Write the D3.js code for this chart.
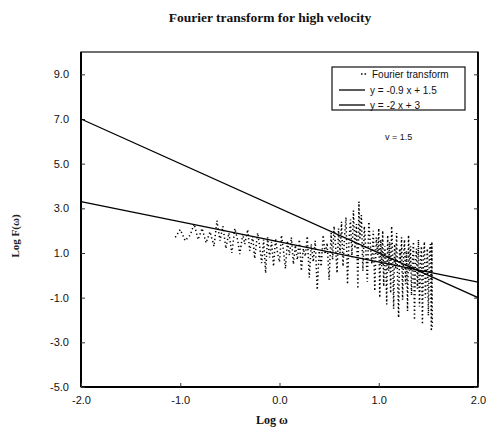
<!DOCTYPE html>
<html>
<head>
<meta charset="utf-8">
<script src="https://cdn.jsdelivr.net/npm/d3@7"></script>
<style>
  html, body { margin: 0; padding: 0; background: #fff; }
  svg { display: block; }
</style>
</head>
<body>
<svg id="chart" width="490" height="438"></svg>
<script>
// ---- data ----
const titleText = "Fourier transform for high velocity";
const xTicks = [-2, -1, 0, 1, 2];
const xTickLabels = ["-2.0", "-1.0", "0.0", "1.0", "2.0"];
const yTicks = [9, 7, 5, 3, 1, -1, -3, -5];
const yTickLabels = ["9.0", "7.0", "5.0", "3.0", "1.0", "-1.0", "-3.0", "-5.0"];

// Fourier transform samples (log omega, log F(omega))
const logOmega = [
  -1.05, -1.00, -0.95, -0.90, -0.86, -0.82, -0.78, -0.74, -0.70, -0.66, -0.63, -0.60, -0.57, -0.54, -0.51,
  -0.48, -0.45, -0.42, -0.40, -0.37, -0.35, -0.32, -0.30, -0.27, -0.25, -0.22, -0.20, -0.18, -0.16, -0.14,
  -0.12, -0.10, -0.08, -0.06, -0.04, -0.02, 0.00,
  0.02, 0.04, 0.06, 0.08, 0.10, 0.12, 0.14, 0.16, 0.18, 0.20, 0.22, 0.24, 0.26, 0.28, 0.30, 0.32, 0.34,
  0.36, 0.38, 0.40, 0.42, 0.44, 0.46, 0.48, 0.50,
  0.52, 0.535, 0.55, 0.565, 0.58, 0.595, 0.61, 0.625, 0.64, 0.655, 0.67, 0.685, 0.70, 0.715, 0.73, 0.745,
  0.76, 0.775, 0.79, 0.80, 0.81, 0.825, 0.84, 0.855, 0.87, 0.885, 0.90, 0.915, 0.93, 0.945, 0.96, 0.975,
  0.99, 1.00,
  1.01, 1.02, 1.03, 1.04, 1.05, 1.06, 1.07, 1.08, 1.09, 1.10, 1.11, 1.12, 1.13, 1.14, 1.15, 1.16, 1.17,
  1.18, 1.19, 1.20, 1.21, 1.22, 1.23, 1.24, 1.25, 1.26, 1.27, 1.28, 1.29, 1.30, 1.31, 1.32, 1.33, 1.34,
  1.35, 1.36, 1.37, 1.38, 1.39, 1.40, 1.41, 1.42, 1.43, 1.44, 1.45, 1.46, 1.47, 1.48, 1.49, 1.50, 1.51,
  1.52, 1.53, 1.535, 1.54
];
const logF = [
  1.70, 2.05, 1.55, 1.80, 2.30, 1.60, 2.10, 1.45, 1.95, 1.30, 2.45, 1.55, 2.20, 1.20, 1.90,
  1.00, 2.10, 1.55, 0.95, 1.85, 1.40, 2.05, 1.10, 1.75, 0.75, 1.90, 1.30, 0.55, 1.60, 0.10,
  1.70, 0.80, 1.50, 0.40, 1.65, 1.00, 0.60,
  1.80, 1.10, 0.30, 1.55, 0.90, 1.70, 0.50, 1.35, 0.70, 1.60, 0.20, 1.20, 0.85, 1.75, -0.10, 1.40, 0.60,
  1.55, -0.65, 1.10, 0.40, 1.80, 0.95, 1.45, -0.20,
  1.90, 0.70, 2.20, 1.30, 0.10, 2.10, 1.00, 2.40, 0.40, 1.70, 2.60, -0.40, 1.50, 2.50, 0.80, 2.90,
  1.20, 2.30, -0.60, 3.30, 1.60, 2.70, 0.20, 2.20, 1.10, -0.30, 2.40, 1.40, 0.50, 2.00, -0.70, 1.70,
  0.90, 2.10,
  -1.00, 1.60, 0.40, 2.00, -0.50, 1.30, 0.80, -1.30, 1.80, 0.20, 1.50, -0.80, 2.20, 0.90, -1.50, 1.40, 0.30,
  1.90, -0.20, -1.90, 1.20, 0.60, 1.70, -1.10, 0.90, 1.60, -0.40, 1.10, -1.60, 1.80, 0.20, 1.30, -0.90, 0.70,
  1.50, -2.00, 0.50, 1.20, -0.60, 1.60, -1.40, 0.40, 1.30, -2.20, 0.80, 1.50, -1.00, 0.30, 1.20, -1.80, 0.90,
  1.40, -2.50, 1.50, -2.30
];

// fitted lines: y = slope * x + intercept
const fitNames = ["y = -0.9 x + 1.5", "y = -2 x + 3"];
const fitSlopes = [-0.9, -2];
const fitIntercepts = [1.5, 3];
const legendNames = ["Fourier transform"].concat(fitNames);
const noteText = "v = 1.5";

(function () {
  // ---- layout ----
  const svg = d3.select("#chart");
  const pL = 81, pR = 478, pT = 52, pB = 387;
  const x = d3.scaleLinear().domain([-2, 2]).range([pL, pR]);
  const y = d3.scaleLinear().domain([-5, 10]).range([pB, pT]);

  const serif = "'Liberation Serif', 'DejaVu Serif', serif";
  const sans = "'Liberation Sans', Arial, sans-serif";

  // title
  svg.append("text")
    .attr("x", 270).attr("y", 22)
    .attr("text-anchor", "middle")
    .attr("font-family", serif).attr("font-weight", "bold")
    .attr("font-size", 13.5)
    .attr("fill", "#111")
    .text(titleText);

  // frame
  svg.append("rect")
    .attr("x", pL).attr("y", pT)
    .attr("width", pR - pL).attr("height", pB - pT)
    .attr("fill", "none").attr("stroke", "#111").attr("stroke-width", 1.2);
  svg.append("line").attr("x1", pL).attr("x2", pL).attr("y1", pT).attr("y2", pB)
    .attr("stroke", "#000").attr("stroke-width", 2);
  svg.append("line").attr("x1", pL).attr("x2", pR).attr("y1", pB).attr("y2", pB)
    .attr("stroke", "#000").attr("stroke-width", 2);
  svg.append("line").attr("x1", pR).attr("x2", pR).attr("y1", pT).attr("y2", pB)
    .attr("stroke", "#000").attr("stroke-width", 1.8);

  // axes via d3 (inward ticks)
  const yAxis = d3.axisLeft(y).tickValues(yTicks)
    .tickFormat((d, i) => yTickLabels[i]).tickSizeInner(-4).tickSizeOuter(0).tickPadding(12);
  const gy = svg.append("g").attr("transform", `translate(${pL},0)`).call(yAxis);
  gy.select(".domain").remove();
  gy.selectAll("text").attr("font-family", sans).attr("font-size", 11).attr("fill", "#111");
  gy.selectAll("line").attr("stroke", "#333");

  const xAxis = d3.axisBottom(x).tickValues(xTicks)
    .tickFormat((d, i) => xTickLabels[i]).tickSizeInner(-4).tickSizeOuter(0).tickPadding(9);
  const gx = svg.append("g").attr("transform", `translate(0,${pB})`).call(xAxis);
  gx.select(".domain").remove();
  gx.selectAll("text").attr("font-family", sans).attr("font-size", 11).attr("fill", "#111");
  gx.selectAll("line").attr("stroke", "#333");

  // right axis inward ticks
  const yAxisR = d3.axisRight(y).tickValues(yTicks).tickFormat("").tickSizeInner(-4).tickSizeOuter(0);
  const gyr = svg.append("g").attr("transform", `translate(${pR},0)`).call(yAxisR);
  gyr.select(".domain").remove();
  gyr.selectAll("line").attr("stroke", "#333");

  // axis titles
  svg.append("text")
    .attr("x", 272).attr("y", 424)
    .attr("text-anchor", "middle")
    .attr("font-family", serif).attr("font-weight", "bold").attr("font-size", 12)
    .attr("fill", "#111")
    .text("Log ω");
  svg.append("text")
    .attr("transform", "translate(19,236) rotate(-90)")
    .attr("text-anchor", "middle")
    .attr("font-family", serif).attr("font-weight", "bold").attr("font-size", 11)
    .attr("fill", "#222")
    .text("Log F(ω)");

  // Fourier transform dotted trace
  const pts = logOmega.map((w, i) => [w, logF[i]]);
  const line = d3.line().x(d => x(d[0])).y(d => y(d[1]));
  svg.append("path")
    .datum(pts)
    .attr("d", line)
    .attr("fill", "none")
    .attr("stroke", "#000")
    .attr("stroke-width", 1.5)
    .attr("stroke-dasharray", "1.3,2.6");

  // fitted lines
  fitSlopes.forEach((s, i) => {
    const seg = [[-2, s * -2 + fitIntercepts[i]], [2, s * 2 + fitIntercepts[i]]];
    svg.append("path")
      .datum(seg)
      .attr("d", line)
      .attr("fill", "none")
      .attr("stroke", "#000")
      .attr("stroke-width", 1.3);
  });

  // legend
  const lg = svg.append("g");
  lg.append("rect")
    .attr("x", 332).attr("y", 67).attr("width", 133).attr("height", 43)
    .attr("fill", "#fff").attr("stroke", "#111").attr("stroke-width", 1.2);
  const rowY = [74, 90, 105];
  legendNames.forEach((name, i) => {
    if (i === 0) {
      lg.append("line").attr("x1", 361).attr("x2", 368).attr("y1", rowY[i]).attr("y2", rowY[i])
        .attr("stroke", "#000").attr("stroke-width", 1.5).attr("stroke-dasharray", "1.5,2");
    } else {
      lg.append("line").attr("x1", 339).attr("x2", 365).attr("y1", rowY[i]).attr("y2", rowY[i])
        .attr("stroke", "#000").attr("stroke-width", 1.3);
    }
    lg.append("text")
      .attr("x", i === 0 ? 372 : 370).attr("y", rowY[i] + 3.5)
      .attr("font-family", sans).attr("font-size", 10).attr("fill", "#111")
      .text(name);
  });

  svg.append("text")
    .attr("x", 385).attr("y", 140)
    .attr("font-family", sans).attr("font-size", 9).attr("fill", "#111")
    .text(noteText);
})();
</script>
</body>
</html>
